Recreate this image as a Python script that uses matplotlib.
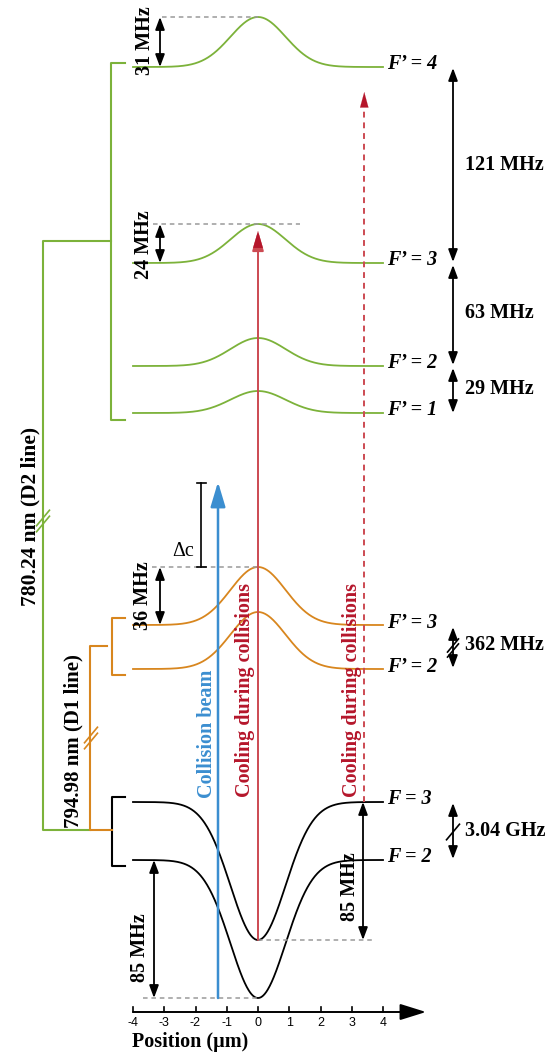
import numpy as np
import matplotlib.pyplot as plt

# ---- data ----------------------------------------------------------------
# horizontal axis: trap position in micrometres
tick_pos = [-4, -3, -2, -1, 0, 1, 2, 3, 4]
pos_span = (-4.0, 4.0)
sigma = 0.88          # width of the light-shift profile (um)

# vertical coordinate: energy in drawing units (larger = lower on the page)
d2_labels = ["F\u2019 = 4", "F\u2019 = 3", "F\u2019 = 2", "F\u2019 = 1"]
d2_base = [67, 263, 366, 413]
d2_peak = [17, 224, 338, 391]

d1_labels = ["F\u2019 = 3", "F\u2019 = 2"]
d1_base = [625, 669]
d1_peak = [567, 612]

gs_labels = ["F = 3", "F = 2"]
gs_base = [802, 860]
gs_min = [940, 998]

shift_labels = ["31 MHz", "24 MHz", "36 MHz"]
d2_gaps = ["121 MHz", "63 MHz", "29 MHz"]
d1_gap = "362 MHz"
gs_gap = "3.04 GHz"
trap_depth = "85 MHz"

beam_labels = ["Collision beam", "Cooling during collisions"]
beam_pos = [-1.28, 0.0, 3.4]

GREEN = "#7cb23a"
ORANGE = "#d8861e"
BLUE = "#3b8ed0"
RED = "#b5162b"
REDLINE = "#cc4a52"
GREY = "#9a9a9a"
SERIF = ["Liberation Serif", "DejaVu Serif"]
FS = 14.5

PX = 31.25  # drawing pixels per micrometre
x0 = 258


def um(px):
    # convert a page column into the position axis
    return (px - x0) / PX


fig = plt.figure(figsize=(5.6, 10.55), dpi=100)
ax = fig.add_axes([0, 0, 1, 1])
ax.set_xlim(um(0), um(560))
ax.set_ylim(1055, 0)
ax.axis("off")

x = np.linspace(pos_span[0], pos_span[1], 500)


def profile(base, peak):
    return base + (peak - base) * np.exp(-x**2 / (2 * sigma**2))


def darrow(xp, y0, y1, lw=1.3):
    ax.annotate("", xy=(xp, y1), xytext=(xp, y0),
                arrowprops=dict(arrowstyle="<|-|>,head_length=0.75,head_width=0.28",
                                color="black", lw=lw, shrinkA=0, shrinkB=0))


def vtext(xp, y, s, color="black", fs=FS, weight="bold"):
    ax.text(xp, y, s, rotation=90, ha="center", va="center", color=color,
            fontsize=fs, fontweight=weight, family=SERIF)


def slash(xp, y, color, n=2, size=6, gap=4, lw=1.2):
    for k in range(n):
        yc = y + (k - (n - 1) / 2) * gap
        ax.plot([xp - size / PX, xp + size / PX], [yc + size * 1.2, yc - size * 1.2],
                color=color, lw=lw, solid_capstyle="butt")


def level_label(yl, s):
    ax.text(um(387), yl, s, ha="left", va="center", fontsize=FS,
            fontweight="bold", fontstyle="italic", family=SERIF)


# ---- energy curves ---------------------------------------------------------
for b, p, lab in zip(d2_base, d2_peak, d2_labels):
    ax.plot(x, profile(b, p), color=GREEN, lw=1.3)
    level_label(b - 3, lab)
for b, p, lab in zip(d1_base, d1_peak, d1_labels):
    ax.plot(x, profile(b, p), color=ORANGE, lw=1.3)
    level_label(b - 2, lab)
for b, m, lab in zip(gs_base, gs_min, gs_labels):
    ax.plot(x, profile(b, m), color="black", lw=1.3)
    level_label(b - 3, lab)

# ---- dashed references -----------------------------------------------------
dash = dict(color=GREY, lw=1.1, ls=(0, (3, 2.5)))
ax.plot([um(162), 0], [d2_peak[0]] * 2, **dash)
ax.plot([um(153), um(300)], [d2_peak[1]] * 2, **dash)
ax.plot([um(152), 0], [d1_peak[0]] * 2, **dash)
ax.plot([0, um(375)], [gs_min[0]] * 2, **dash)
ax.plot([um(143), 0], [gs_min[1]] * 2, **dash)

# ---- light-shift arrows ----------------------------------------------------
darrow(um(160), d2_peak[0], d2_base[0])
vtext(um(145), (d2_peak[0] + d2_base[0]) / 2 - 1, shift_labels[0])
darrow(um(160), d2_peak[1], d2_base[1])
vtext(um(144), (d2_peak[1] + d2_base[1]) / 2 + 1, shift_labels[1])
darrow(um(160), d1_peak[0], d1_base[0])
vtext(um(143), (d1_peak[0] + d1_base[0]) / 2, shift_labels[2])

darrow(um(154), gs_base[1], gs_min[1])
vtext(um(140), 948, trap_depth)
darrow(um(363), gs_base[0], gs_min[0])
vtext(um(350), 887, trap_depth)

# ---- hyperfine splittings on the right ------------------------------------
xr = um(453)
darrow(xr, d2_base[0] + 1, 262)
darrow(xr, 265, d2_base[2] - 1)
darrow(xr, 368, d2_base[3])
for yl, s in zip([165, 313, 389], d2_gaps):
    ax.text(um(465), yl, s, ha="left", va="center", fontsize=FS,
            fontweight="bold", family=SERIF)
darrow(xr, 627, 668)
slash(xr, 648, "black", n=2, size=6, gap=5)
ax.text(um(465), 645, d1_gap, ha="left", va="center", fontsize=FS,
        fontweight="bold", family=SERIF)
darrow(xr, gs_base[0] + 1, gs_base[1] - 1)
slash(xr, 832, "black", n=1, size=7)
ax.text(um(465), 831, gs_gap, ha="left", va="center", fontsize=FS,
        fontweight="bold", family=SERIF)

# ---- laser beams -----------------------------------------------------------
ax.annotate("", xy=(beam_pos[0], 482), xytext=(beam_pos[0], gs_min[1]),
            arrowprops=dict(arrowstyle="-|>,head_length=1.5,head_width=0.45",
                            color=BLUE, lw=1.8, shrinkA=0, shrinkB=0))
vtext(um(207), 734, beam_labels[0], color=BLUE)

ax.annotate("", xy=(beam_pos[1], 231), xytext=(beam_pos[1], gs_min[0]),
            arrowprops=dict(arrowstyle="-|>,head_length=1.2,head_width=0.35",
                            color=REDLINE, lw=1.4, shrinkA=0, shrinkB=0))
ax.annotate("", xy=(beam_pos[1], 231), xytext=(beam_pos[1], 246),
            arrowprops=dict(arrowstyle="-|>,head_length=1.2,head_width=0.35",
                            color=RED, lw=0.1, shrinkA=0, shrinkB=0))
vtext(um(245), 690, beam_labels[1], color=RED)

ax.plot([beam_pos[2], beam_pos[2]], [gs_base[0], 104], color=REDLINE, lw=1.4,
        ls=(0, (3, 2.5)))
ax.annotate("", xy=(beam_pos[2], 92), xytext=(beam_pos[2], 106),
            arrowprops=dict(arrowstyle="-|>,head_length=1.1,head_width=0.3",
                            color=RED, lw=0.1, shrinkA=0, shrinkB=0))
vtext(um(352), 690, beam_labels[1], color=RED)

# detuning marker
ax.plot([um(201), um(201)], [483, d1_peak[0]], color="black", lw=1.2)
ax.plot([um(197), um(206)], [483, 483], color="black", lw=1.2)
ax.plot([um(197), um(206)], [d1_peak[0], d1_peak[0]], color="black", lw=1.2)
ax.text(um(183), 551, "\u0394c", ha="center", va="center", fontsize=FS,
        family=SERIF)

# ---- brackets linking the manifolds ---------------------------------------
ax.plot([um(125), um(111), um(111), um(125)], [63, 63, 420, 420], color=GREEN, lw=1.5)
ax.plot([um(125), um(112), um(112), um(125)], [618, 618, 675, 675], color=ORANGE, lw=1.5)
ax.plot([um(125), um(112), um(112), um(125)], [797, 797, 866, 866], color="black", lw=1.5)
ax.plot([um(111), um(43), um(43), um(90)], [241, 241, 830, 830], color=GREEN, lw=1.5)
ax.plot([um(107), um(90), um(90), um(112)], [646, 646, 830, 830], color=ORANGE, lw=1.5)
slash(um(43), 521, GREEN, n=2, size=7, gap=6)
slash(um(91), 738, ORANGE, n=2, size=7, gap=6)
vtext(um(30), 516, "780.24 nm (D2 line)", fs=15.5)
vtext(um(73), 741, "794.98 nm (D1 line)", fs=15)

# ---- position axis ---------------------------------------------------------
yax = 1012
ax.annotate("", xy=(um(426), yax), xytext=(pos_span[0], yax),
            arrowprops=dict(arrowstyle="-|>,head_length=1.6,head_width=0.5",
                            color="black", lw=1.4, shrinkA=0, shrinkB=0))
for t in tick_pos:
    ax.plot([t, t], [yax, yax - 5], color="black", lw=1.2)
    ax.text(t, 1023, str(t), ha="center", va="center", fontsize=9,
            family=["Liberation Sans", "DejaVu Sans"])
ax.text(pos_span[0] - 0.03, 1042, "Position (\u00b5m)", ha="left", va="center",
        fontsize=FS, fontweight="bold", family=SERIF)

fig.savefig("out.png", dpi=100)
